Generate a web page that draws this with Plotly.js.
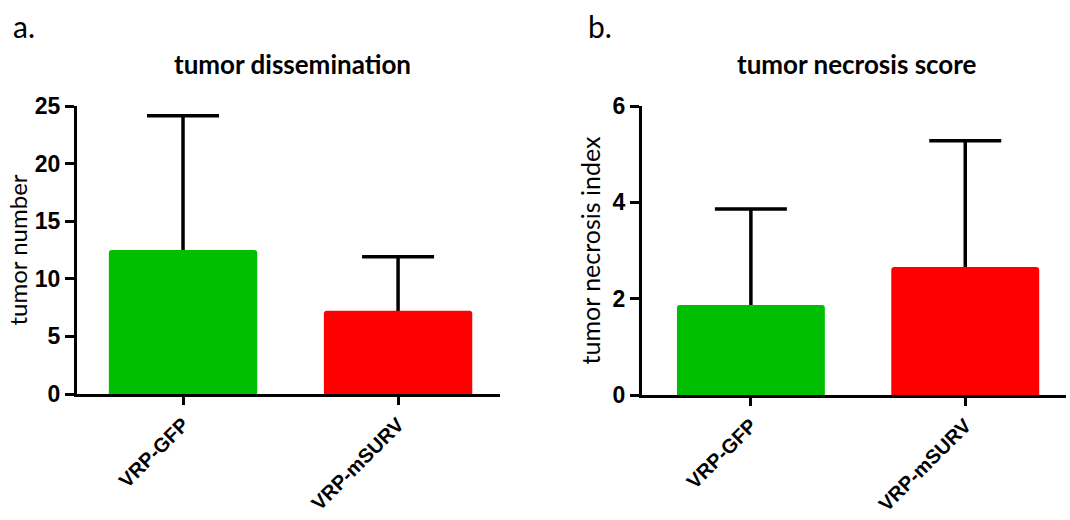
<!DOCTYPE html>
<html><head><meta charset="utf-8">
<script src="https://cdn.plot.ly/plotly-3.0.1.min.js"></script>
<style>html,body{margin:0;padding:0;background:#fff}#chart{width:1070px;height:520px}</style>
</head><body><div id="chart"></div>
<script>
const categories = ["VRP-GFP", "VRP-mSURV"];
const tumorNumber = [12.5, 7.23];
const tumorNumberErr = [11.66, 4.69];
const necrosisIndex = [1.87, 2.66];
const necrosisIndexErr = [1.99, 2.62];
const barColors = ["#00BF00", "#FF0000"];
const leftTicks = [0, 5, 10, 15, 20, 25];
const rightTicks = [0, 2, 4, 6];

const W = 1070, H = 520;
const px = v => v / W, py = v => (H - v) / H;

function errTrace(vals, errs, xa, ya) {
  // invisible carrier of the upper error bar; its lower end sits on the baseline, hidden by the bar drawn over it
  return {type:"bar", x:categories, y:vals, xaxis:xa, yaxis:ya, width:0.69,
    marker:{color:"rgba(0,0,0,0)"},
    error_y:{type:"data", symmetric:false, array:errs, arrayminus:vals, color:"#000", thickness:3.5, width:36},
    hoverinfo:"none"};
}
function barTrace(vals, xa, ya) {
  return {type:"bar", x:categories, y:vals, xaxis:xa, yaxis:ya, width:0.69,
    marker:{color:barColors, cornerradius:3, line:{width:0}}, hoverinfo:"none"};
}

const traces = [
  errTrace(tumorNumber, tumorNumberErr, "x", "y"),
  barTrace(tumorNumber, "x", "y"),
  errTrace(necrosisIndex, necrosisIndexErr, "x2", "y2"),
  barTrace(necrosisIndex, "x2", "y2")
];

const axCommon = {showgrid:false, zeroline:false, showline:true, linecolor:"#000", linewidth:3,
  ticks:"outside", tickwidth:3, tickcolor:"#000"};
const catFont = {family:"Liberation Sans, Arial, sans-serif", size:20, color:"#000", weight:"bold"};
const numFont = {family:"Liberation Sans, Arial, sans-serif", size:23, color:"#000", weight:"bold"};
const humanist = "Lato, Open Sans, sans-serif";

const layout = {
  width:W, height:H, margin:{l:0,r:0,t:0,b:0}, showlegend:false, barmode:"overlay",
  paper_bgcolor:"#fff", plot_bgcolor:"#fff",
  xaxis: Object.assign({}, axCommon, {domain:[px(77), px(500)], range:[-0.493, 1.474], anchor:"y",
    ticklen:8, tickangle:-45, tickfont:catFont}),
  yaxis: Object.assign({}, axCommon, {domain:[py(394), py(106)], range:[0,25], anchor:"x",
    ticklen:9, tickvals:leftTicks, tickfont:numFont,
    title:{text:"tumor number", font:{family:humanist, size:24, color:"#000"}, standoff:1}}),
  xaxis2: Object.assign({}, axCommon, {domain:[px(642), px(1066)], range:[-0.508, 1.47], anchor:"y2",
    ticklen:8, tickangle:-45, tickfont:catFont}),
  yaxis2: Object.assign({}, axCommon, {domain:[py(395), py(106)], range:[0,6], anchor:"x2",
    ticklen:9, tickvals:rightTicks, tickfont:numFont,
    title:{text:"tumor necrosis index", font:{family:humanist, size:25, color:"#000"}, standoff:5}}),
  annotations:[
    {text:"a.", x:px(11), y:py(26), xref:"paper", yref:"paper", xanchor:"left", yanchor:"middle", showarrow:false,
     font:{family:humanist, size:30, color:"#000"}},
    {text:"b.", x:px(586), y:py(26), xref:"paper", yref:"paper", xanchor:"left", yanchor:"middle", showarrow:false,
     font:{family:humanist, size:30, color:"#000"}},
    {text:"<b>tumor dissemination</b>", x:px(292), y:py(64), xref:"paper", yref:"paper", xanchor:"center", yanchor:"middle", showarrow:false,
     font:{family:humanist, size:26, color:"#000"}},
    {text:"<b>tumor necrosis score</b>", x:px(857), y:py(64), xref:"paper", yref:"paper", xanchor:"center", yanchor:"middle", showarrow:false,
     font:{family:humanist, size:26, color:"#000"}}
  ]
};

Plotly.newPlot("chart", traces, layout, {staticPlot:true, displayModeBar:false});
</script>
</body></html>
